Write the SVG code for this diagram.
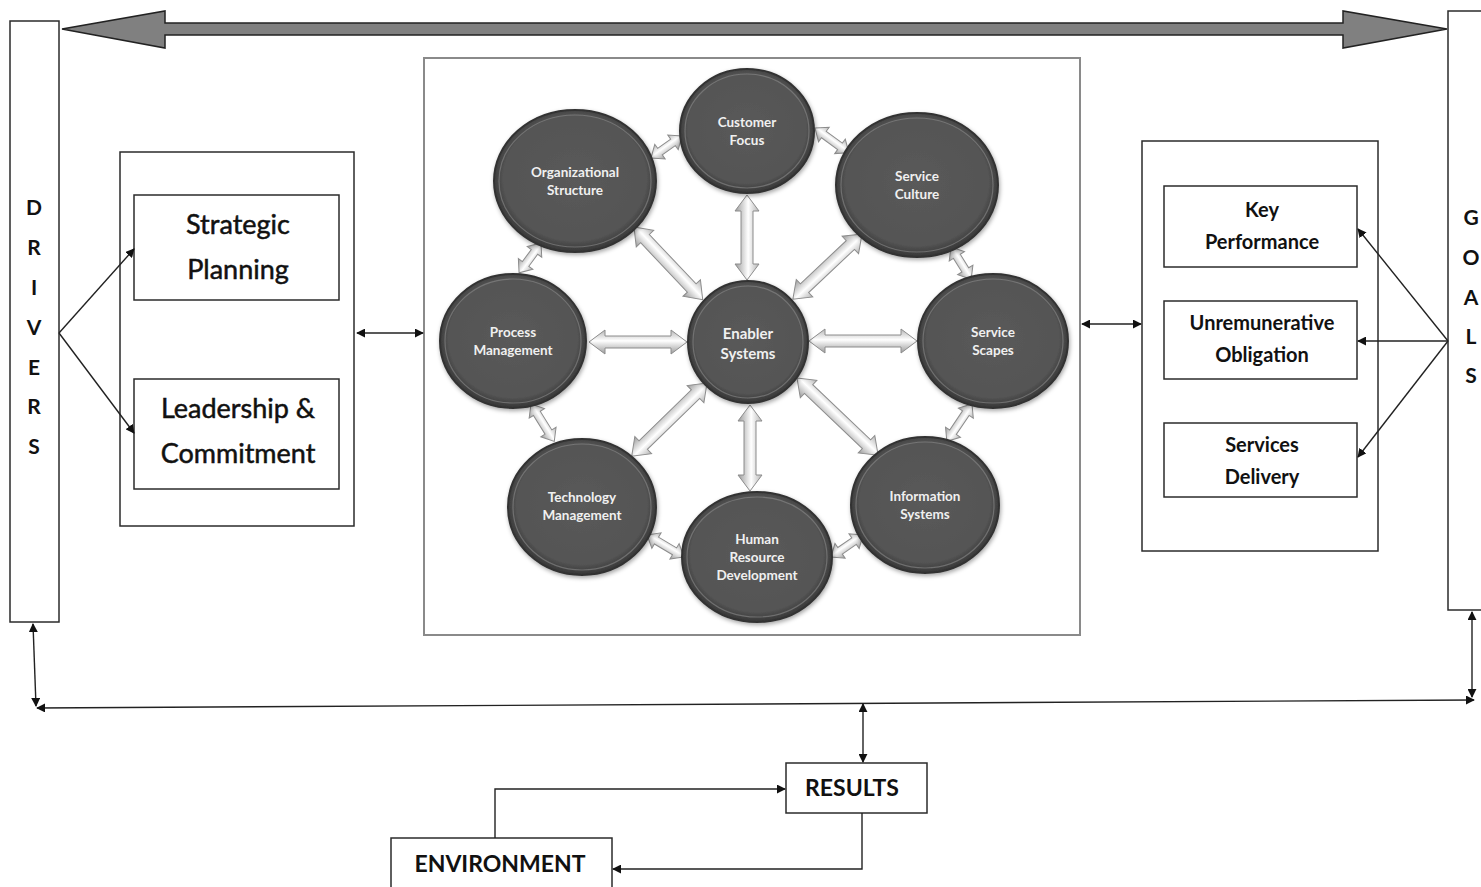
<svg xmlns="http://www.w3.org/2000/svg" width="1481" height="887" viewBox="0 0 1481 887">
<style>
.box{fill:#fff;stroke:#2b2b2b;stroke-width:1.5}
.gbox{fill:#fff;stroke:#8a8a8a;stroke-width:2}
.ln{fill:none;stroke:#222;stroke-width:1.4}
.big{font-family:Lato,"Open Sans",sans-serif;fill:#111;text-anchor:middle;stroke:#111;stroke-width:0.5}
.bold{font-family:Lato,"Open Sans",sans-serif;font-weight:bold;fill:#111;text-anchor:middle}
.ct{font-family:Lato,"Open Sans",sans-serif;font-weight:bold;fill:#f0f0f0;text-anchor:middle;font-size:13.5px}
.circ{fill:url(#cg);stroke:#333;stroke-width:2;filter:url(#sh)}
.hl{fill:none;stroke:#8a8a8a;stroke-width:1.2;opacity:0.6}
.ba{fill:url(#ag);stroke:#8c8c8c;stroke-width:1}
</style>
<defs>
<radialGradient id="cg" cx="50%" cy="48%" r="52%">
<stop offset="0" stop-color="#5a5a5a"/>
<stop offset="0.85" stop-color="#545454"/>
<stop offset="1" stop-color="#353535"/>
</radialGradient>
<linearGradient id="ag" x1="0" y1="0" x2="0" y2="1">
<stop offset="0" stop-color="#b5b5b5"/>
<stop offset="0.45" stop-color="#ffffff"/>
<stop offset="1" stop-color="#9a9a9a"/>
</linearGradient>
<filter id="sh" x="-20%" y="-20%" width="140%" height="140%">
<feDropShadow dx="1" dy="2" stdDeviation="2" flood-color="#000" flood-opacity="0.35"/>
</filter>
<marker id="ah" viewBox="0 0 10 10" refX="9" refY="5" markerWidth="9" markerHeight="9" markerUnits="userSpaceOnUse" orient="auto-start-reverse">
<path d="M0,0 L10,5 L0,10 z" fill="#111"/>
</marker>
</defs>

<!-- top double block arrow -->
<polygon id="topArrow" points="62,29 165,11 165,23 1343,23 1343,11 1447,29 1343,48 1343,35 165,35 165,48" fill="#808080" stroke="#222" stroke-width="1.5"/>

<g id="drivers">
<rect class="box" x="10" y="21" width="49" height="601"/>
<text class="bold" font-size="21" x="34" y="215">D</text>
<text class="bold" font-size="21" x="34" y="255">R</text>
<text class="bold" font-size="21" x="34" y="295">I</text>
<text class="bold" font-size="21" x="34" y="335">V</text>
<text class="bold" font-size="21" x="34" y="375">E</text>
<text class="bold" font-size="21" x="34" y="414">R</text>
<text class="bold" font-size="21" x="34" y="454">S</text>
</g>

<g id="goals">
<rect class="box" x="1448" y="11" width="45" height="599"/>
<text class="bold" font-size="21" x="1471" y="225">G</text>
<text class="bold" font-size="21" x="1471" y="265">O</text>
<text class="bold" font-size="21" x="1471" y="305">A</text>
<text class="bold" font-size="21" x="1471" y="344">L</text>
<text class="bold" font-size="21" x="1471" y="383">S</text>
</g>

<g id="leftPanel">
<rect class="box" x="120" y="152" width="234" height="374"/>
</g>
<g id="strategicPlanning">
<rect class="box" x="134" y="195" width="205" height="105"/>
<text class="big" font-size="27" x="238" y="234">Strategic</text>
<text class="big" font-size="27" x="238" y="279">Planning</text>
</g>
<g id="leadership">
<rect class="box" x="134" y="379" width="205" height="110"/>
<text class="big" font-size="27" x="238" y="418">Leadership &amp;</text>
<text class="big" font-size="27" x="238" y="463">Commitment</text>
</g>

<g id="rightPanel">
<rect class="box" x="1142" y="141" width="236" height="410"/>
</g>
<g id="keyPerformance">
<rect class="box" x="1164" y="186" width="193" height="81"/>
<text class="bold" font-size="20" x="1262" y="217">Key</text>
<text class="bold" font-size="20" x="1262" y="249">Performance</text>
</g>
<g id="unremunerative">
<rect class="box" x="1164" y="301" width="193" height="78"/>
<text class="bold" font-size="20" x="1262" y="330">Unremunerative</text>
<text class="bold" font-size="20" x="1262" y="362">Obligation</text>
</g>
<g id="servicesDelivery">
<rect class="box" x="1164" y="423" width="193" height="74"/>
<text class="bold" font-size="20" x="1262" y="452">Services</text>
<text class="bold" font-size="20" x="1262" y="484">Delivery</text>
</g>

<g id="centerPanel">
<rect class="gbox" x="424" y="58" width="656" height="577"/>
</g>

<!-- block arrows inside center -->
<g id="blockArrows">
<polygon class="ba" transform="translate(747,195) rotate(90)" points="0,0 16,-12 16,-6 69,-6 69,-12 85,0 69,12 69,6 16,6 16,12"/>
<polygon class="ba" transform="translate(634,227) rotate(46.6)" points="0,0 16,-12 16,-6 84,-6 84,-12 100,0 84,12 84,6 16,6 16,12"/>
<polygon class="ba" transform="translate(862,234) rotate(136.7)" points="0,0 16,-12 16,-6 79,-6 79,-12 95,0 79,12 79,6 16,6 16,12"/>
<polygon class="ba" transform="translate(589,342)" points="0,0 16,-12 16,-6 82,-6 82,-12 98,0 82,12 82,6 16,6 16,12"/>
<polygon class="ba" transform="translate(809,341)" points="0,0 16,-12 16,-6 92,-6 92,-12 108,0 92,12 92,6 16,6 16,12"/>
<polygon class="ba" transform="translate(707,383) rotate(135.8)" points="0,0 16,-12 16,-6 89,-6 89,-12 105,0 89,12 89,6 16,6 16,12"/>
<polygon class="ba" transform="translate(750,405) rotate(90)" points="0,0 16,-12 16,-6 70,-6 70,-12 86,0 70,12 70,6 16,6 16,12"/>
<polygon class="ba" transform="translate(797,378) rotate(43.6)" points="0,0 16,-12 16,-6 96,-6 96,-12 112,0 96,12 96,6 16,6 16,12"/>
<polygon class="ba" transform="translate(651,158) rotate(-35.4)" points="0,0 11,-9 11,-4 27,-4 27,-9 38,0 27,9 27,4 11,4 11,9"/>
<polygon class="ba" transform="translate(815,128) rotate(36.3)" points="0,0 11,-9 11,-4 31,-4 31,-9 42,0 31,9 31,4 11,4 11,9"/>
<polygon class="ba" transform="translate(541,243) rotate(126.3)" points="0,0 11,-9 11,-4 26,-4 26,-9 37,0 26,9 26,4 11,4 11,9"/>
<polygon class="ba" transform="translate(951,247) rotate(58)" points="0,0 11,-9 11,-4 27,-4 27,-9 38,0 27,9 27,4 11,4 11,9"/>
<polygon class="ba" transform="translate(531,404) rotate(58.1)" points="0,0 11,-9 11,-4 33,-4 33,-9 44,0 33,9 33,4 11,4 11,9"/>
<polygon class="ba" transform="translate(972,404) rotate(124)" points="0,0 11,-9 11,-4 34,-4 34,-9 45,0 34,9 34,4 11,4 11,9"/>
<polygon class="ba" transform="translate(647,535) rotate(30.7)" points="0,0 11,-9 11,-4 32,-4 32,-9 43,0 32,9 32,4 11,4 11,9"/>
<polygon class="ba" transform="translate(831,557) rotate(-34.5)" points="0,0 11,-9 11,-4 28,-4 28,-9 39,0 28,9 28,4 11,4 11,9"/>
</g>

<g id="customerFocus">
<ellipse class="circ" cx="747" cy="131" rx="67" ry="62"/>
<ellipse class="hl" cx="747" cy="131" rx="62" ry="57"/>
<text class="ct" x="747" y="127">Customer</text>
<text class="ct" x="747" y="145">Focus</text>
</g>
<g id="organizationalStructure">
<ellipse class="circ" cx="575" cy="181" rx="81" ry="71"/>
<ellipse class="hl" cx="575" cy="181" rx="76" ry="66"/>
<text class="ct" x="575" y="177">Organizational</text>
<text class="ct" x="575" y="195">Structure</text>
</g>
<g id="serviceCulture">
<ellipse class="circ" cx="917" cy="185" rx="81" ry="72"/>
<ellipse class="hl" cx="917" cy="185" rx="76" ry="67"/>
<text class="ct" x="917" y="181">Service</text>
<text class="ct" x="917" y="199">Culture</text>
</g>
<g id="processManagement">
<ellipse class="circ" cx="513" cy="341" rx="73" ry="67"/>
<ellipse class="hl" cx="513" cy="341" rx="68" ry="62"/>
<text class="ct" x="513" y="337">Process</text>
<text class="ct" x="513" y="355">Management</text>
</g>
<g id="enablerSystems">
<ellipse class="circ" cx="748" cy="342" rx="60" ry="61"/>
<ellipse class="hl" cx="748" cy="342" rx="55" ry="56"/>
<text class="ct" style="font-size:15px" x="748" y="339">Enabler</text>
<text class="ct" style="font-size:15px" x="748" y="359">Systems</text>
</g>
<g id="serviceScapes">
<ellipse class="circ" cx="993" cy="341" rx="75" ry="67"/>
<ellipse class="hl" cx="993" cy="341" rx="70" ry="62"/>
<text class="ct" x="993" y="337">Service</text>
<text class="ct" x="993" y="355">Scapes</text>
</g>
<g id="technologyManagement">
<ellipse class="circ" cx="582" cy="507" rx="74" ry="68"/>
<ellipse class="hl" cx="582" cy="507" rx="69" ry="63"/>
<text class="ct" x="582" y="502">Technology</text>
<text class="ct" x="582" y="520">Management</text>
</g>
<g id="humanResourceDevelopment">
<ellipse class="circ" cx="757" cy="557" rx="75" ry="65"/>
<ellipse class="hl" cx="757" cy="557" rx="70" ry="60"/>
<text class="ct" x="757" y="544">Human</text>
<text class="ct" x="757" y="562">Resource</text>
<text class="ct" x="757" y="580">Development</text>
</g>
<g id="informationSystems">
<ellipse class="circ" cx="925" cy="505" rx="74" ry="68"/>
<ellipse class="hl" cx="925" cy="505" rx="69" ry="63"/>
<text class="ct" x="925" y="501">Information</text>
<text class="ct" x="925" y="519">Systems</text>
</g>

<g id="results">
<rect class="box" x="786" y="763" width="141" height="50"/>
<text class="bold" font-size="23" x="852" y="796">RESULTS</text>
</g>
<g id="environment">
<rect class="box" x="391" y="838" width="221" height="60"/>
<text class="bold" font-size="23" x="500" y="872">ENVIRONMENT</text>
</g>

<g id="connectors">
<line class="ln" x1="59" y1="333" x2="134" y2="249" marker-end="url(#ah)"/>
<line class="ln" x1="59" y1="333" x2="134" y2="433" marker-end="url(#ah)"/>
<line class="ln" x1="357" y1="333" x2="423" y2="333" marker-start="url(#ah)" marker-end="url(#ah)"/>
<line class="ln" x1="1082" y1="324" x2="1141" y2="324" marker-start="url(#ah)" marker-end="url(#ah)"/>
<line class="ln" x1="1448" y1="341" x2="1358" y2="229" marker-end="url(#ah)"/>
<line class="ln" x1="1448" y1="341" x2="1358" y2="341" marker-end="url(#ah)"/>
<line class="ln" x1="1448" y1="341" x2="1358" y2="457" marker-end="url(#ah)"/>
<line class="ln" x1="33" y1="624" x2="36" y2="706" marker-start="url(#ah)" marker-end="url(#ah)"/>
<line class="ln" x1="37" y1="708" x2="1474" y2="700" marker-start="url(#ah)" marker-end="url(#ah)"/>
<line class="ln" x1="1472" y1="612" x2="1472" y2="697" marker-start="url(#ah)" marker-end="url(#ah)"/>
<line class="ln" x1="863" y1="704" x2="863" y2="762" marker-start="url(#ah)" marker-end="url(#ah)"/>
<polyline class="ln" points="495,838 495,789 785,789" marker-end="url(#ah)"/>
<polyline class="ln" points="862,813 862,869 613,869" marker-end="url(#ah)"/>
</g>
</svg>
